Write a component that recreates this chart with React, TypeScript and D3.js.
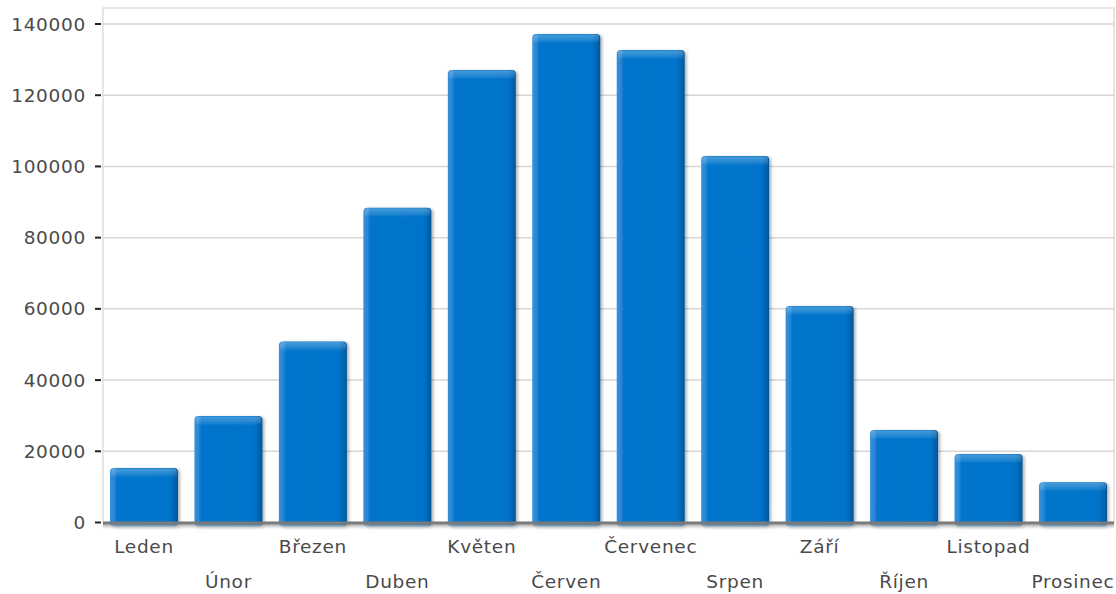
import React from "react";
import * as d3 from "d3";

// Monthly totals
const months = [
  "Leden", "Únor", "Březen", "Duben", "Květen", "Červen",
  "Červenec", "Srpen", "Září", "Říjen", "Listopad", "Prosinec",
];
const totals = [15300, 29900, 50800, 88400, 127100, 137200, 132700, 102900, 60800, 26000, 19250, 11300];
const yTicks = [0, 20000, 40000, 60000, 80000, 100000, 120000, 140000];

const W = 1116;
const H = 594;
const plot = { left: 103, right: 1114, top: 8, bottom: 522.5 };
const font = "'DejaVu Sans', Verdana, sans-serif";
const textColor = "#4a4a4a";

export default function App() {
  const x = d3
    .scaleBand<string>()
    .domain(months)
    .range([plot.left, plot.right])
    .paddingInner(0.195)
    .paddingOuter(0.083);
  const y = d3.scaleLinear().domain([0, 140000]).range([plot.bottom, 24]);
  const bw = x.bandwidth();

  return (
    <svg
      width={W}
      height={H}
      style={{ position: "absolute", left: 0, top: 0, background: "#fff" }}
    >
      <defs>
        <linearGradient id="barFace" x1="0" x2="1" y1="0" y2="0">
          <stop offset="0" stopColor="#3690da" />
          <stop offset="0.06" stopColor="#2a88d6" />
          <stop offset="0.1" stopColor="#0675cb" />
          <stop offset="0.88" stopColor="#0073ca" />
          <stop offset="0.95" stopColor="#0064b0" />
          <stop offset="1" stopColor="#00559a" />
        </linearGradient>
        <linearGradient id="barTop" x1="0" x2="0" y1="0" y2="1">
          <stop offset="0" stopColor="#ffffff" stopOpacity="0.28" />
          <stop offset="0.6" stopColor="#ffffff" stopOpacity="0.14" />
          <stop offset="1" stopColor="#ffffff" stopOpacity="0" />
        </linearGradient>
        <linearGradient id="axisShade" x1="0" x2="0" y1="0" y2="1">
          <stop offset="0" stopColor="#9a9a9a" stopOpacity="0.9" />
          <stop offset="1" stopColor="#ffffff" stopOpacity="0" />
        </linearGradient>
        <filter id="barShadow" x="-20%" y="-5%" width="140%" height="115%">
          <feDropShadow dx="2" dy="1" stdDeviation="1.8" floodColor="#000" floodOpacity="0.3" />
        </filter>
      </defs>

      {/* plot frame and gridlines */}
      <rect
        x={plot.left}
        y={plot.top}
        width={plot.right - plot.left}
        height={plot.bottom - plot.top}
        fill="none"
        stroke="#dedede"
        strokeWidth={1.5}
      />
      {yTicks.slice(1).map((t) => (
        <line
          key={t}
          x1={plot.left}
          x2={plot.right}
          y1={y(t)}
          y2={y(t)}
          stroke="#d6d6d6"
          strokeWidth={1.5}
        />
      ))}

      {/* y axis ticks and labels */}
      {yTicks.map((t) => (
        <g key={t}>
          <line x1={95} x2={101} y1={y(t)} y2={y(t)} stroke="#222" strokeWidth={2} />
          <text
            x={86}
            y={y(t) + 6.5}
            textAnchor="end"
            fontFamily={font}
            fontSize={18.5}
            letterSpacing={0.7}
            fill={textColor}
          >
            {t}
          </text>
        </g>
      ))}

      {/* bars */}
      {months.map((m, i) => {
        const bx = x(m)!;
        const top = y(totals[i]);
        const h = plot.bottom - top;
        return (
          <g key={m}>
            <rect
              x={bx}
              y={top}
              width={bw}
              height={h + 4}
              rx={4}
              fill="url(#barFace)"
              filter="url(#barShadow)"
            />
            <rect x={bx + 1} y={top + 0.5} width={bw - 2} height={Math.min(9, h)} rx={3.5} fill="url(#barTop)" />
          </g>
        );
      })}

      {/* category axis line with its shading */}
      <rect x={plot.left} y={plot.bottom + 2} width={plot.right - plot.left} height={6} fill="url(#axisShade)" />
      <line
        x1={plot.left}
        x2={plot.right}
        y1={plot.bottom + 0.5}
        y2={plot.bottom + 0.5}
        stroke="#7a7a7a"
        strokeWidth={3}
      />

      {/* category labels, staggered over two rows */}
      {months.map((m, i) => (
        <text
          key={m}
          x={x(m)! + bw / 2}
          y={i % 2 === 0 ? 553 : 588}
          textAnchor="middle"
          fontFamily={font}
          fontSize={18.5}
          letterSpacing={0.7}
          fill={textColor}
        >
          {m}
        </text>
      ))}
    </svg>
  );
}
